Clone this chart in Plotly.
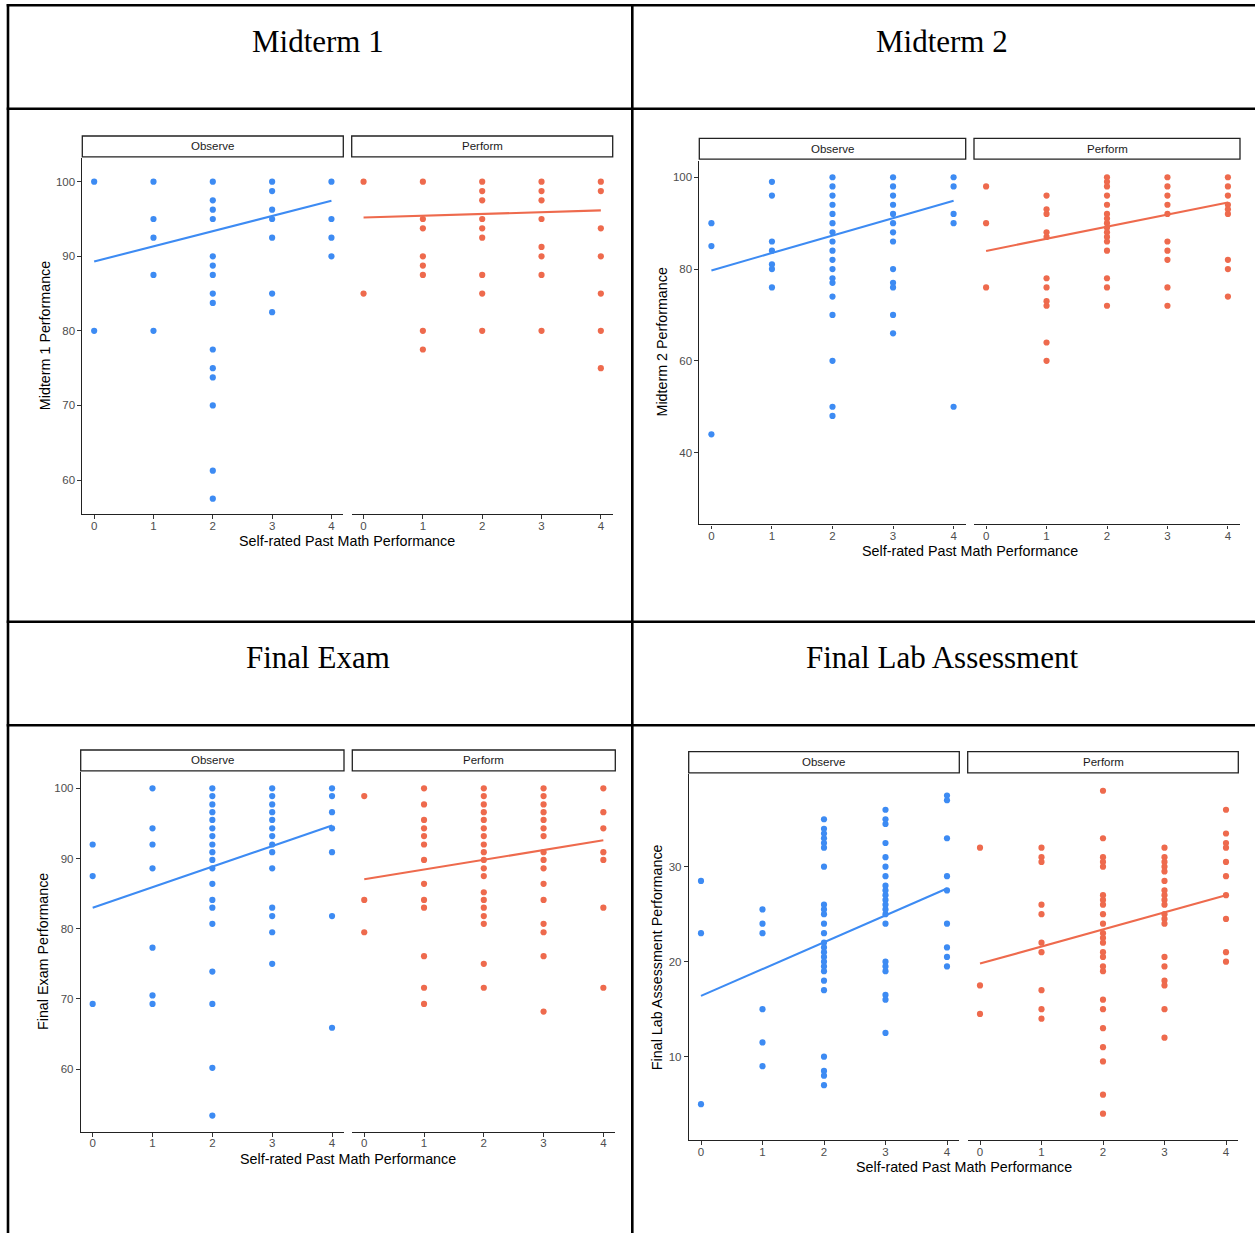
import plotly.graph_objects as go

W, H = 1255, 1233

# Self-rated past math performance levels (x axis)
ratings = [0, 1, 2, 3, 4]

# Scores grouped by self-rating level (index = rating)
m1_observe = [
    [100, 80],
    [100, 95, 92.5, 87.5, 80],
    [100, 97.5, 96.25, 95, 90, 88.75, 87.5, 85, 83.75, 77.5, 75, 73.75, 70, 61.25, 57.5],
    [100, 98.75, 96.25, 95, 92.5, 85, 82.5],
    [100, 95, 92.5, 90],
]
m1_perform = [
    [100, 85],
    [100, 95, 93.75, 90, 88.75, 87.5, 80, 77.5],
    [100, 98.75, 97.5, 95, 93.75, 92.5, 87.5, 85, 80],
    [100, 98.75, 97.5, 95, 91.25, 90, 87.5, 80],
    [100, 98.75, 93.75, 90, 85, 80, 75],
]
m2_observe = [
    [90, 85, 44],
    [99, 96, 86, 84, 81, 80, 76],
    [100, 98, 96, 94, 92, 90, 88, 86, 84, 82, 80, 78, 77, 74, 70, 60, 50, 48],
    [100, 98, 96, 94, 92, 90, 88, 86, 80, 77, 76, 70, 66],
    [100, 98, 92, 90, 50],
]
m2_perform = [
    [98, 90, 76],
    [96, 93, 92, 88, 87, 78, 76, 73, 72, 64, 60],
    [100, 99, 98, 96, 94, 92, 91, 90, 89, 88, 87, 86, 84, 78, 76, 72],
    [100, 98, 96, 94, 92, 86, 84, 82, 76, 72],
    [100, 98, 96, 94, 93, 92, 82, 80, 74],
]
final_observe = [
    [92.0, 87.5, 69.3],
    [100, 94.3, 92.0, 88.6, 77.3, 70.5, 69.3],
    [100, 98.9, 97.7, 96.6, 95.5, 94.3, 93.2, 92.0, 90.9, 89.8, 88.6, 86.4, 84.1, 83.0, 80.7, 73.9, 69.3, 60.2, 53.4],
    [100, 98.9, 97.7, 96.6, 95.5, 94.3, 93.2, 92.0, 90.9, 88.6, 83.0, 81.8, 79.5, 75.0],
    [100, 98.9, 96.6, 94.3, 90.9, 81.8, 65.9],
]
final_perform = [
    [98.9, 84.1, 79.5],
    [100, 97.7, 95.5, 94.3, 93.2, 92.0, 89.8, 86.4, 84.1, 83.0, 76.1, 71.6, 69.3],
    [100, 98.9, 97.7, 96.6, 95.5, 94.3, 93.2, 92.0, 90.9, 89.8, 88.6, 87.5, 85.2, 84.1, 83.0, 81.8, 80.7, 75.0, 71.6],
    [100, 98.9, 97.7, 96.6, 95.5, 94.3, 93.2, 90.9, 89.8, 88.6, 86.4, 84.1, 80.7, 79.5, 76.1, 68.2],
    [100, 96.6, 94.3, 90.9, 89.8, 83.0, 71.6],
]
lab_observe = [
    [28.5, 23, 5],
    [25.5, 24, 23, 15, 11.5, 9],
    [35, 34, 33.5, 33, 32.5, 32, 30, 26, 25.5, 25, 24, 23, 22, 21.5, 21, 20.5, 20, 19.5, 19, 18, 17, 10, 8.5, 8, 7],
    [36, 35, 34.5, 32.5, 31, 30, 29, 28, 27.5, 27, 26.5, 26, 25.5, 25, 24, 20, 19.5, 19, 16.5, 16, 12.5],
    [37.5, 37, 33, 29, 27.5, 24, 21.5, 20.5, 19.5],
]
lab_perform = [
    [32, 17.5, 14.5],
    [32, 31, 30.5, 26, 25, 22, 21, 17, 15, 14],
    [38, 33, 31, 30.5, 30, 27, 26.5, 26, 25, 24, 23, 22.5, 22, 21, 20.5, 19.5, 19, 16, 15, 13, 11, 9.5, 6, 4],
    [32, 31, 30.5, 30, 29.5, 28.5, 27.5, 27, 26.5, 26, 25, 24.5, 24, 20.5, 19.5, 18, 17.5, 15, 12],
    [36, 33.5, 32.5, 32, 30.5, 29, 27, 24.5, 21, 20],
]

# Linear fit values at rating 0 and rating 4
fit_ends = [0, 4]
m1_observe_fit = [89.3, 97.45]
m1_perform_fit = [95.2, 96.15]
m2_observe_fit = [79.7, 94.9]
m2_perform_fit = [83.95, 94.5]
final_observe_fit = [83.0, 94.7]
final_perform_fit = [87.05, 92.6]
lab_observe_fit = [16.4, 27.7]
lab_perform_fit = [19.8, 27.0]

facet_labels = ["Observe", "Perform"]
cell_titles = ["Midterm 1", "Midterm 2", "Final Exam", "Final Lab Assessment"]
y_titles = ["Midterm 1 Performance", "Midterm 2 Performance",
            "Final Exam Performance", "Final Lab Assessment Performance"]
x_title = "Self-rated Past Math Performance"
y_tickvals = [[60, 70, 80, 90, 100], [40, 60, 80, 100], [60, 70, 80, 90, 100], [10, 20, 30]]

BLUE = "#3D8BF3"
ORANGE = "#EE6A4D"
SANS = "Liberation Sans, Arial, sans-serif"
SERIF = "Liberation Serif, Times New Roman, serif"

# Pixel geometry of each cell's plot (left facet, right facet, top, bottom)
panels = [
    dict(data=(m1_observe, m1_perform), fits=(m1_observe_fit, m1_perform_fit),
         yrange=[55.44, 103.14], obs=(82.3, 343.3), perf=(351.7, 612.7),
         top=158.3, bottom=514.0, strip_top=136.0,
         title_y=41, ytitle_x=45, xtitle_y=541),
    dict(data=(m2_observe, m2_perform), fits=(m2_observe_fit, m2_perform_fit),
         yrange=[24.4, 103.6], obs=(699.3, 965.7), perf=(974.0, 1240.0),
         top=160.7, bottom=524.3, strip_top=138.3,
         title_y=41, ytitle_x=661, xtitle_y=551),
    dict(data=(final_observe, final_perform), fits=(final_observe_fit, final_perform_fit),
         yrange=[51.1, 102.28], obs=(80.7, 344.0), perf=(352.3, 615.3),
         top=772.3, bottom=1131.7, strip_top=750.0,
         title_y=657, ytitle_x=43, xtitle_y=1159),
    dict(data=(lab_observe, lab_perform), fits=(lab_observe_fit, lab_perform_fit),
         yrange=[1.23, 39.73], obs=(688.7, 959.3), perf=(967.7, 1238.3),
         top=774.3, bottom=1140.0, strip_top=751.7,
         title_y=657, ytitle_x=657, xtitle_y=1167),
]
cell_centers = [320, 944, 320, 944]


def fx(p):
    return p / W


def fy(p):
    return 1 - p / H


fig = go.Figure()
shapes = []
annotations = []
layout_axes = {}

for i, pnl in enumerate(panels):
    for j, (scores, fit, color) in enumerate(zip(pnl["data"], pnl["fits"], [BLUE, ORANGE])):
        k = i * 2 + j + 1
        sfx = "" if k == 1 else str(k)
        xs, ys = [], []
        for r, vals in zip(ratings, scores):
            xs += [r] * len(vals)
            ys += vals
        fig.add_trace(go.Scatter(x=xs, y=ys, mode="markers", xaxis="x" + sfx, yaxis="y" + sfx,
                                 marker=dict(color=color, size=6.2, line=dict(width=0)),
                                 showlegend=False, hoverinfo="skip"))
        fig.add_trace(go.Scatter(x=fit_ends, y=fit, mode="lines", xaxis="x" + sfx, yaxis="y" + sfx,
                                 line=dict(color=color, width=2.1),
                                 showlegend=False, hoverinfo="skip"))
        x0, x1 = pnl["obs"] if j == 0 else pnl["perf"]
        layout_axes["xaxis" + sfx] = dict(
            domain=[fx(x0), fx(x1)], anchor="y" + sfx, range=[-0.2, 4.2],
            tickvals=ratings, ticks="outside", ticklen=3.7, tickwidth=1, tickcolor="#333333",
            ticklabelstandoff=-3,
            showline=True, linecolor="#222222", linewidth=1.4, showgrid=False, zeroline=False,
            tickfont=dict(family=SANS, size=11.5, color="#4D4D4D"), fixedrange=True)
        layout_axes["yaxis" + sfx] = dict(
            domain=[fy(pnl["bottom"]), fy(pnl["top"])], anchor="x" + sfx, range=pnl["yrange"],
            tickvals=y_tickvals[i], showticklabels=(j == 0),
            ticks="outside" if j == 0 else "", ticklen=3.7, tickwidth=1, tickcolor="#333333",
            showline=(j == 0), linecolor="#222222", linewidth=1.4, showgrid=False, zeroline=False,
            tickfont=dict(family=SANS, size=11.5, color="#4D4D4D"), fixedrange=True)
        # facet strip
        shapes.append(dict(type="rect", xref="paper", yref="paper",
                           x0=fx(x0), x1=fx(x1), y0=fy(pnl["top"] - 1.5), y1=fy(pnl["strip_top"]),
                           line=dict(color="#222222", width=1.3), fillcolor="white"))
        annotations.append(dict(text=facet_labels[j], xref="paper", yref="paper",
                                x=fx((x0 + x1) / 2), y=fy((pnl["strip_top"] + pnl["top"] - 1.5) / 2),
                                showarrow=False, xanchor="center", yanchor="middle",
                                font=dict(family=SANS, size=11.5, color="#1A1A1A")))

    # cell title, axis titles
    annotations.append(dict(text=cell_titles[i], xref="paper", yref="paper",
                            x=fx(cell_centers[i] - 2), y=fy(pnl["title_y"]), showarrow=False,
                            xanchor="center", yanchor="middle",
                            font=dict(family=SERIF, size=31, color="black")))
    annotations.append(dict(text=y_titles[i], xref="paper", yref="paper",
                            x=fx(pnl["ytitle_x"]), y=fy((pnl["top"] + pnl["bottom"]) / 2),
                            textangle=-90, showarrow=False, xanchor="center", yanchor="middle",
                            font=dict(family=SANS, size=14.3, color="black")))
    annotations.append(dict(text=x_title, xref="paper", yref="paper",
                            x=fx((pnl["obs"][0] + pnl["perf"][1]) / 2), y=fy(pnl["xtitle_y"]),
                            showarrow=False, xanchor="center", yanchor="middle",
                            font=dict(family=SANS, size=14.3, color="black")))

# table rules around the cells
rule = dict(color="black", width=2.6)
for yy in [5.3, 108.8, 621.8, 725.2]:
    shapes.append(dict(type="line", xref="paper", yref="paper",
                       x0=fx(6.7), x1=1, y0=fy(yy), y1=fy(yy), line=rule))
for xx in [8.0, 632.3]:
    shapes.append(dict(type="line", xref="paper", yref="paper",
                       x0=fx(xx), x1=fx(xx), y0=fy(4.0), y1=0, line=rule))

fig.update_layout(
    width=W, height=H, margin=dict(l=0, r=0, t=0, b=0),
    paper_bgcolor="white", plot_bgcolor="white",
    shapes=shapes, annotations=annotations, showlegend=False,
    **layout_axes,
)

fig.write_html("out.html", config=dict(displayModeBar=False))
